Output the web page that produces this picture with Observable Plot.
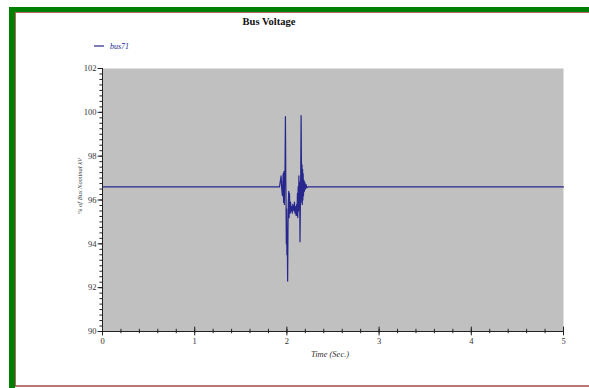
<!DOCTYPE html>
<html><head><meta charset="utf-8">
<script src="https://cdn.jsdelivr.net/npm/d3@7"></script>
<script src="https://cdn.jsdelivr.net/npm/@observablehq/plot@0.6"></script>
<style>html,body{margin:0;padding:0;background:#fff;overflow:hidden}</style>
</head><body><div id="chart"></div>
<script>
const titleText = "Bus Voltage";
const seriesName = "bus71";
const xLabel = "Time (Sec.)";
const yLabel = "% of Bus Nominal kV";
const xTicks = [0, 1, 2, 3, 4, 5];
const yTicks = [90, 92, 94, 96, 98, 100, 102];
const xMinor = d3.range(0, 5.001, 0.2);
const yMinor = d3.range(90, 102.001, 0.25);

const time = [0, 1.92, 1.93, 1.937, 1.944, 1.951, 1.956, 1.96, 1.964, 1.968, 1.972, 1.976, 1.98, 1.984, 1.988, 1.991, 1.994, 1.997, 2.0, 2.004, 2.008, 2.012, 2.016, 2.02, 2.024, 2.028, 2.032, 2.036, 2.04, 2.046, 2.052, 2.058, 2.064, 2.07, 2.076, 2.082, 2.088, 2.094, 2.1, 2.106, 2.11, 2.114, 2.118, 2.122, 2.126, 2.13, 2.134, 2.138, 2.142, 2.146, 2.15, 2.154, 2.158, 2.161, 2.164, 2.167, 2.17, 2.173, 2.176, 2.18, 2.185, 2.19, 2.195, 2.2, 2.208, 2.216, 2.225, 5];
const voltage = [96.6, 96.6, 96.9, 97.1, 96.5, 96.2, 96.8, 97.2, 95.9, 97.3, 95.8, 96.9, 97.5, 99.8, 97.0, 95.8, 94.0, 95.6, 93.5, 94.6, 92.3, 94.8, 95.9, 96.4, 95.2, 96.3, 95.6, 95.4, 95.9, 95.5, 95.7, 95.4, 95.8, 95.6, 95.5, 95.9, 95.4, 95.7, 95.3, 95.8, 95.3, 96.3, 95.2, 96.6, 95.5, 97.1, 95.8, 96.8, 94.1, 95.6, 97.2, 99.85, 97.4, 95.9, 97.6, 95.8, 97.4, 96.0, 97.2, 96.2, 96.9, 96.4, 96.8, 96.5, 96.7, 96.55, 96.6, 96.6];

const data = time.map((t, i) => ({t, v: voltage[i]}));
const font = "'Liberation Serif', 'Times New Roman', serif";

const chart = Plot.plot({
  width: 589, height: 388,
  marginLeft: 102, marginRight: 26, marginTop: 68, marginBottom: 57,
  style: {fontFamily: font, background: "transparent"},
  x: {domain: [0, 5], axis: null},
  y: {domain: [90, 102], axis: null},
  marks: [
    Plot.frame({fill: "#c0c0c0", stroke: null}),
    Plot.line(data, {x: "t", y: "v", stroke: "#26268c", strokeWidth: 1.2}),
    Plot.ruleX([0], {stroke: "#222"}),
    Plot.ruleY([90], {stroke: "#222"}),
    Plot.ruleX(xMinor, {x: d => d, y1: 89.9, y2: 90.1, stroke: "#222"}),
    Plot.ruleX(xTicks, {x: d => d, y1: 89.8, y2: 90.2, stroke: "#222"}),
    Plot.ruleY(yMinor, {y: d => d, x1: -0.028, x2: 0, stroke: "#222"}),
    Plot.ruleY(yTicks, {y: d => d, x1: -0.048, x2: 0.01, stroke: "#222"}),
    Plot.text(xTicks, {x: d => d, y: 90, dy: 10, text: d => String(d), fontSize: 8.5, fill: "#333"}),
    Plot.text(yTicks, {x: 0, y: d => d, dx: -6, text: d => String(d), textAnchor: "end", fontSize: 8.5, fill: "#333"})
  ]
});
document.getElementById("chart").append(chart);

const svg = d3.select(chart);
function txt(x, y, s, opts) {
  const t = svg.append("text").attr("x", x).attr("y", y).text(s)
    .style("font-family", font).style("font-size", (opts.size || 8.5) + "px")
    .style("font-style", opts.italic ? "italic" : "normal")
    .style("font-weight", opts.bold ? "bold" : "normal")
    .style("fill", opts.fill || "#333")
    .style("text-anchor", opts.anchor || "start");
  if (opts.transform) t.attr("transform", opts.transform).attr("x", 0).attr("y", 0);
  return t;
}
// frame decoration
svg.append("rect").attr("x", 9).attr("y", 7).attr("width", 6).attr("height", 381).attr("fill", "#008000");
svg.append("rect").attr("x", 9).attr("y", 7).attr("width", 580).attr("height", 5).attr("fill", "#008000");
svg.append("line").attr("x1", 15.5).attr("x2", 15.5).attr("y1", 12).attr("y2", 386).attr("stroke", "#c06060").attr("stroke-width", 1);
svg.append("line").attr("x1", 15).attr("x2", 589).attr("y1", 12.5).attr("y2", 12.5).attr("stroke", "#c06060").attr("stroke-width", 1);
svg.append("line").attr("x1", 15).attr("x2", 589).attr("y1", 386).attr("y2", 386).attr("stroke", "#a04848").attr("stroke-width", 1.5);
// title
txt(269, 25, titleText, {size: 10.5, bold: true, fill: "#111", anchor: "middle"});
// legend
svg.append("line").attr("x1", 94).attr("x2", 104).attr("y1", 46).attr("y2", 46).attr("stroke", "#26268c").attr("stroke-width", 1.2);
txt(110, 49, seriesName, {italic: true, size: 8, fill: "#26268c"});
// axis labels
txt(330, 357, xLabel, {italic: true, anchor: "middle"});
txt(0, 0, yLabel, {italic: true, size: 6.5, fill: "#444", anchor: "middle", transform: "translate(82,186) rotate(-90)"});
</script>
</body></html>
